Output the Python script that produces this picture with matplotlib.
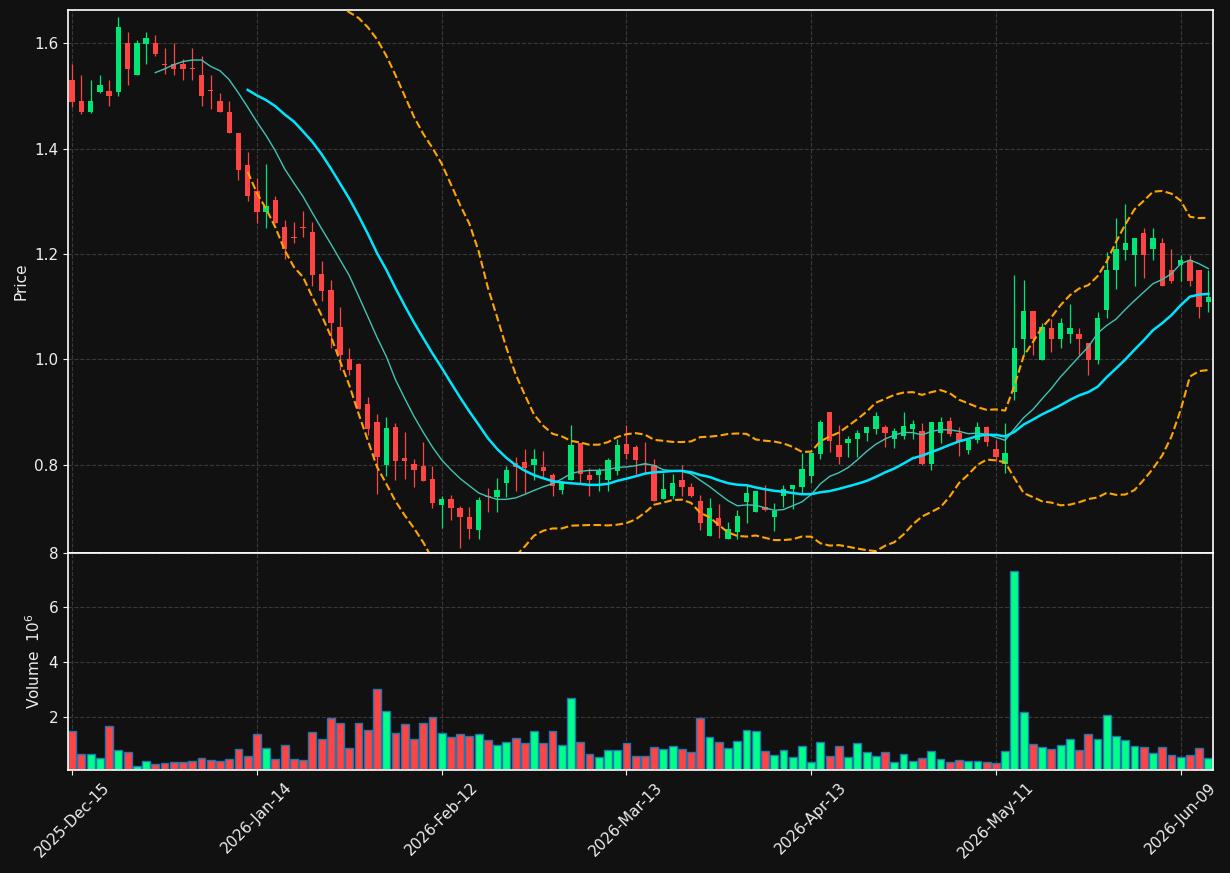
import numpy as np
import pandas as pd
import matplotlib
matplotlib.use("Agg")
import matplotlib.pyplot as plt

# trading days (NYSE holidays removed)
HOLIDAYS = ["2025-12-25", "2026-01-01", "2026-01-19", "2026-02-16", "2026-04-03", "2026-05-25"]
DATES = pd.bdate_range("2025-12-15", "2026-06-12", freq="C", holidays=HOLIDAYS)

OPEN = [1.530, 1.491, 1.469, 1.508, 1.510, 1.508, 1.600, 1.539, 1.599, 1.600,
        1.561, 1.560, 1.561, 1.551, 1.540, 1.510, 1.491, 1.470, 1.430, 1.369,
        1.320, 1.280, 1.302, 1.251, 1.232, 1.251, 1.241, 1.162, 1.131, 1.061,
        1.000, 0.991, 0.915, 0.881, 0.800, 0.872, 0.813, 0.802, 0.798, 0.773,
        0.724, 0.736, 0.719, 0.702, 0.676, 0.741, 0.740, 0.765, 0.803, 0.806,
        0.799, 0.796, 0.781, 0.752, 0.771, 0.842, 0.781, 0.780, 0.772, 0.788,
        0.840, 0.833, 0.802, 0.799, 0.735, 0.741, 0.772, 0.758, 0.731, 0.665,
        0.700, 0.659, 0.672, 0.729, 0.710, 0.721, 0.701, 0.741, 0.754, 0.759,
        0.779, 0.820, 0.901, 0.838, 0.841, 0.850, 0.860, 0.869, 0.871, 0.850,
        0.854, 0.869, 0.865, 0.801, 0.860, 0.883, 0.861, 0.828, 0.847, 0.871,
        0.830, 0.801, 0.939, 1.038, 1.091, 0.999, 1.060, 1.039, 1.048, 1.049,
        1.031, 0.999, 1.094, 1.169, 1.208, 1.199, 1.240, 1.209, 1.220, 1.170,
        1.179, 1.188, 1.170, 1.109]
HIGH = [1.560, 1.539, 1.530, 1.539, 1.530, 1.650, 1.621, 1.606, 1.621, 1.615,
        1.591, 1.600, 1.570, 1.591, 1.575, 1.539, 1.505, 1.491, 1.430, 1.393,
        1.344, 1.370, 1.310, 1.265, 1.260, 1.281, 1.260, 1.186, 1.150, 1.100,
        1.021, 0.994, 0.928, 0.896, 0.890, 0.879, 0.862, 0.812, 0.843, 0.798,
        0.741, 0.743, 0.722, 0.721, 0.739, 0.756, 0.775, 0.798, 0.815, 0.830,
        0.830, 0.827, 0.784, 0.770, 0.876, 0.842, 0.794, 0.794, 0.813, 0.849,
        0.875, 0.837, 0.843, 0.811, 0.785, 0.783, 0.800, 0.765, 0.743, 0.738,
        0.726, 0.692, 0.714, 0.762, 0.751, 0.761, 0.727, 0.761, 0.761, 0.822,
        0.822, 0.886, 0.901, 0.875, 0.854, 0.867, 0.871, 0.901, 0.876, 0.870,
        0.901, 0.885, 0.880, 0.882, 0.891, 0.891, 0.872, 0.847, 0.882, 0.873,
        0.847, 0.880, 1.160, 1.150, 1.091, 1.069, 1.077, 1.079, 1.105, 1.060,
        1.031, 1.090, 1.203, 1.269, 1.295, 1.231, 1.249, 1.249, 1.230, 1.210,
        1.199, 1.199, 1.170, 1.170]
LOW = [1.479, 1.465, 1.468, 1.505, 1.480, 1.499, 1.520, 1.539, 1.560, 1.575,
       1.541, 1.539, 1.530, 1.530, 1.480, 1.474, 1.469, 1.429, 1.340, 1.300,
       1.259, 1.250, 1.259, 1.190, 1.220, 1.232, 1.140, 1.110, 1.021, 0.980,
       0.970, 0.906, 0.857, 0.745, 0.779, 0.771, 0.774, 0.759, 0.769, 0.719,
       0.681, 0.696, 0.642, 0.660, 0.659, 0.711, 0.711, 0.739, 0.751, 0.747,
       0.772, 0.775, 0.741, 0.745, 0.771, 0.766, 0.741, 0.751, 0.751, 0.780,
       0.811, 0.782, 0.782, 0.731, 0.735, 0.736, 0.741, 0.740, 0.676, 0.665,
       0.662, 0.659, 0.659, 0.690, 0.710, 0.712, 0.674, 0.721, 0.717, 0.747,
       0.766, 0.812, 0.825, 0.801, 0.815, 0.815, 0.845, 0.858, 0.834, 0.832,
       0.850, 0.850, 0.800, 0.791, 0.842, 0.855, 0.816, 0.820, 0.842, 0.836,
       0.808, 0.785, 0.923, 1.011, 1.009, 0.999, 1.015, 1.021, 1.031, 1.009,
       0.970, 0.992, 1.079, 1.134, 1.189, 1.140, 1.154, 1.189, 1.139, 1.145,
       1.148, 1.140, 1.079, 1.090]
CLOSE = [1.489, 1.469, 1.491, 1.521, 1.499, 1.631, 1.550, 1.600, 1.610, 1.579,
         1.559, 1.550, 1.550, 1.550, 1.499, 1.509, 1.469, 1.429, 1.359, 1.309,
         1.280, 1.291, 1.259, 1.210, 1.231, 1.250, 1.161, 1.130, 1.070, 1.008,
         0.980, 0.906, 0.868, 0.815, 0.870, 0.807, 0.807, 0.790, 0.769, 0.727,
         0.736, 0.719, 0.701, 0.678, 0.734, 0.739, 0.753, 0.791, 0.796, 0.794,
         0.811, 0.788, 0.760, 0.766, 0.837, 0.782, 0.771, 0.791, 0.810, 0.837,
         0.820, 0.810, 0.800, 0.731, 0.755, 0.766, 0.758, 0.741, 0.689, 0.719,
         0.684, 0.678, 0.704, 0.746, 0.751, 0.715, 0.712, 0.755, 0.761, 0.793,
         0.822, 0.882, 0.845, 0.815, 0.850, 0.861, 0.871, 0.892, 0.861, 0.865,
         0.874, 0.878, 0.801, 0.882, 0.882, 0.858, 0.844, 0.847, 0.872, 0.843,
         0.815, 0.822, 1.021, 1.091, 1.038, 1.061, 1.039, 1.070, 1.060, 1.038,
         0.999, 1.079, 1.170, 1.210, 1.220, 1.231, 1.199, 1.231, 1.139, 1.148,
         1.189, 1.148, 1.099, 1.119]
VOLUME = [1.48, 0.63, 0.63, 0.47, 1.67, 0.78, 0.70, 0.17, 0.37, 0.26,
          0.30, 0.33, 0.33, 0.37, 0.48, 0.41, 0.37, 0.44, 0.81, 0.56,
          1.37, 0.85, 0.44, 0.96, 0.44, 0.41, 1.44, 1.19, 1.93, 1.78,
          0.85, 1.78, 1.52, 3.00, 2.22, 1.41, 1.74, 1.19, 1.78, 2.00,
          1.41, 1.26, 1.37, 1.30, 1.37, 1.15, 0.96, 1.07, 1.22, 1.04,
          1.48, 1.04, 1.48, 0.96, 2.67, 1.07, 0.63, 0.52, 0.78, 0.78,
          1.04, 0.56, 0.56, 0.89, 0.81, 0.93, 0.81, 0.70, 1.93, 1.26,
          1.07, 0.85, 1.11, 1.52, 1.48, 0.74, 0.59, 0.78, 0.52, 0.93,
          0.33, 1.07, 0.56, 0.93, 0.52, 1.04, 0.70, 0.56, 0.70, 0.33,
          0.63, 0.37, 0.48, 0.74, 0.44, 0.33, 0.41, 0.37, 0.37, 0.33,
          0.30, 0.74, 7.33, 2.15, 1.00, 0.89, 0.81, 0.96, 1.19, 0.78,
          1.37, 1.19, 2.07, 1.30, 1.15, 0.93, 0.89, 0.67, 0.89, 0.59,
          0.52, 0.59, 0.85, 0.48]

BG = "#111111"
UP = "#00e676"
DOWN = "#ff4444"
VOL_UP = "#00ff88"
TXT = "#eeeeee"

o = np.array(OPEN)
h = np.array(HIGH)
l = np.array(LOW)
c = np.array(CLOSE)
v = np.array(VOLUME)
x = np.arange(len(c))
up = c >= o

close_s = pd.Series(c)
ma10 = close_s.rolling(10).mean()
ma20 = close_s.rolling(20).mean()
sd20 = close_s.rolling(20).std(ddof=0)

fig = plt.figure(figsize=(12.3, 8.73), dpi=100, facecolor=BG)
ax = fig.add_axes([0.0553, 0.3666, 0.9309, 0.6219])
axv = fig.add_axes([0.0553, 0.118, 0.9309, 0.2486], sharex=ax)

for a in (ax, axv):
    a.set_facecolor(BG)
    a.grid(True, color="#444444", linestyle="--", linewidth=0.8, alpha=0.8)
    a.set_axisbelow(True)
    for s in a.spines.values():
        s.set_color("white")
        s.set_linewidth(1.2)
    a.tick_params(colors=TXT, labelsize=11)

cols = np.where(up, UP, DOWN)
ax.vlines(x, l, h, colors=cols, linewidth=0.9, zorder=2)
body = np.maximum(np.abs(c - o), 0.002)
ax.bar(x, body, bottom=np.minimum(o, c), width=0.58, color=cols, zorder=3)

ax.plot(x, ma10, color="#40c4b4", linewidth=1.0, zorder=4)
ax.plot(x, ma20, color="#00e5ff", linewidth=1.8, zorder=4)
ax.plot(x, ma20 + 2 * sd20, color="orange", linestyle="--", linewidth=1.5, zorder=4)
ax.plot(x, ma20 - 2 * sd20, color="orange", linestyle="--", linewidth=1.5, zorder=4)

ax.set_ylim(0.633, 1.6626)
ax.set_yticks([0.8, 1.0, 1.2, 1.4, 1.6])
ax.set_ylabel("Price", color=TXT, fontsize=11)
plt.setp(ax.get_xticklabels(), visible=False)
ax.tick_params(axis="x", length=0)

vcols = np.where(up, VOL_UP, DOWN)
axv.bar(x, v, width=0.85, color=vcols, edgecolor="#1f77b4", linewidth=1.0)
axv.set_ylim(0.04, 8.0)
axv.set_yticks([2, 4, 6, 8])
axv.set_ylabel("Volume  $10^{6}$", color=TXT, fontsize=11)

ticks = np.arange(0, len(c), 20)
axv.set_xticks(ticks)
axv.set_xticklabels([DATES[i].strftime("%Y-%b-%d") for i in ticks], rotation=45, ha="center",
                    color=TXT, fontsize=11)
axv.set_xlim(-0.45, len(c) - 0.5)

fig.savefig("out.png", facecolor=BG)
